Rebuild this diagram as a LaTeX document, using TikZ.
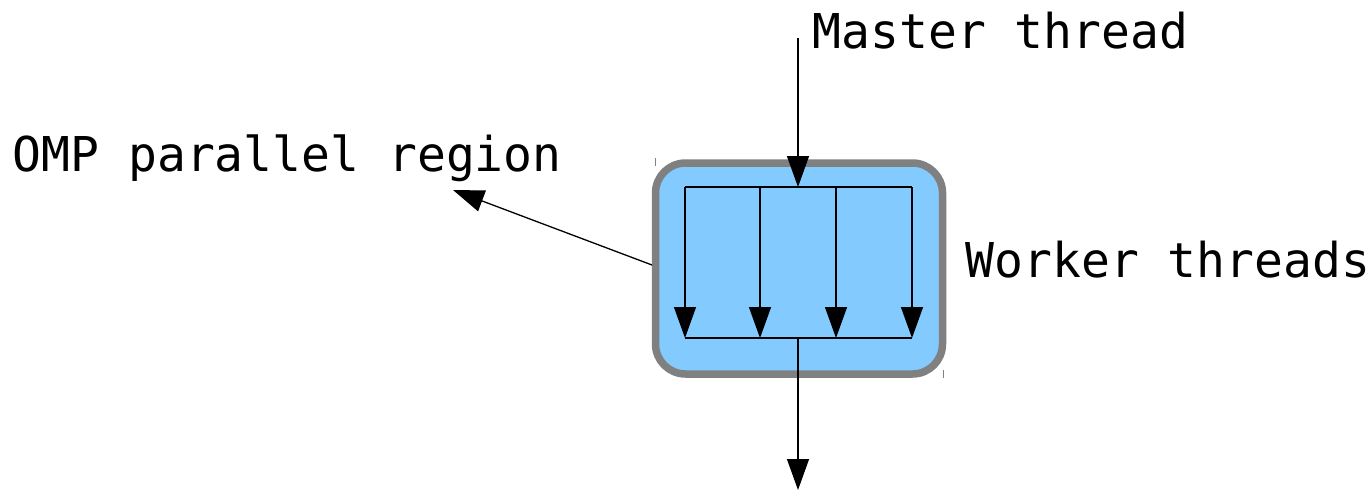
\documentclass[tikz,border=0pt]{standalone}
\usepackage{fontspec}
\setmonofont{DejaVu Sans Mono}
\usetikzlibrary{arrows.meta}
\definecolor{regionfill}{HTML}{83CAFF}
\definecolor{regionedge}{HTML}{808080}
\begin{document}
\begin{tikzpicture}[x=1pt,y=-1pt, line width=1.3pt,
  arr/.style={-{Triangle[width=22pt,length=31pt]}},
  lbl/.style={font=\ttfamily\fontsize{48}{58}\selectfont, anchor=base west, inner sep=0pt},
  tick/.style={draw=regionedge, line width=1pt}]
\useasboundingbox (0,0) rectangle (1370,490);
\node[draw=regionedge, fill=regionfill, rounded corners=30pt, line width=7.5pt,
      minimum width=287pt, minimum height=211pt, inner sep=0pt] (region) at (799,268.5) {};
\draw[tick] (655,158) -- (655,166);
\draw[tick] (943,370) -- (943,378);
% labels
\node[lbl] (master) at (812,48) {Master thread};
\node[lbl] (omp) at (12,171) {OMP parallel region};
\node[lbl] (worker) at (965,277) {Worker threads};
% coordinates
\coordinate (min) at (798,38);
\coordinate (fork) at (798,187);
\coordinate (t1) at (685,187);
\coordinate (t2) at (760,187);
\coordinate (t3) at (836,187);
\coordinate (t4) at (912,187);
\coordinate (b1) at (685,338);
\coordinate (b2) at (760,338);
\coordinate (b3) at (836,338);
\coordinate (b4) at (912,338);
\coordinate (join) at (798,338);
\coordinate (out) at (798,490);
\coordinate (ompstart) at (652,265);
\coordinate (omptip) at (453,190);
% connectors
\draw[arr] (min) -- (fork);
\draw (t1) -- (t4);
\draw (b1) -- (b4);
\draw[arr] (t1) -- (b1);
\draw[arr] (t2) -- (b2);
\draw[arr] (t3) -- (b3);
\draw[arr] (t4) -- (b4);
\draw[arr] (join) -- (out);
\draw[arr] (ompstart) -- (omptip);
\end{tikzpicture}
\end{document}
